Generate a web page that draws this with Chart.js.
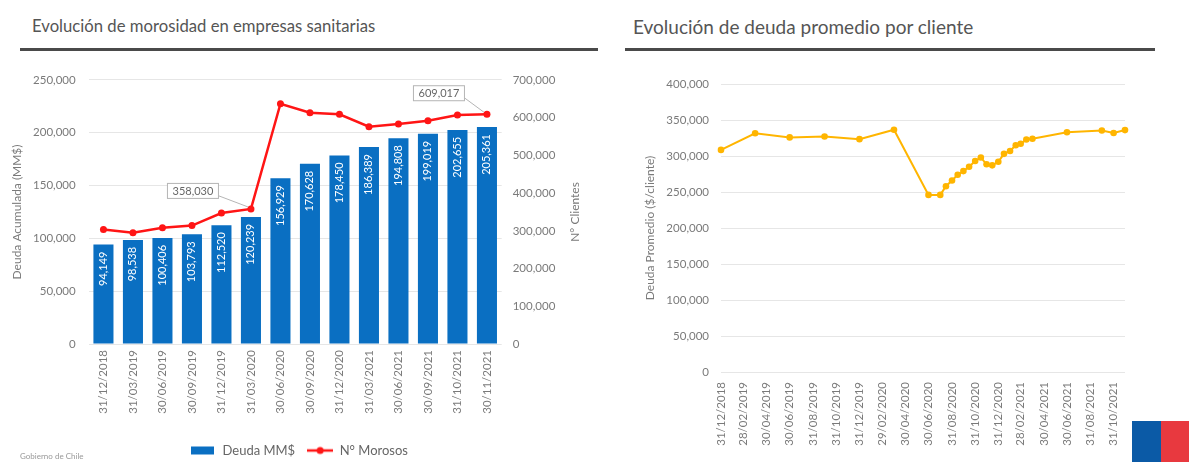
<!DOCTYPE html>
<html>
<head>
<meta charset="utf-8">
<script src="https://cdn.jsdelivr.net/npm/chart.js@4.4.1/dist/chart.umd.min.js"></script>
<style>
body{margin:0;background:#fff;font-family:Lato, sans-serif;width:1189px;height:462px;overflow:hidden;position:relative}
.titulo{position:absolute;top:16px;font-size:17px;color:#555;white-space:nowrap}
.linea{position:absolute;top:48px;height:3px;background:#4a4a4a}
#c1{position:absolute;left:0;top:60px}
#c2{position:absolute;left:620px;top:60px}
.pie{position:absolute;left:20px;top:451px;font-size:8px;color:#999}
.azul{position:absolute;left:1132px;top:421px;width:29px;height:41px;background:#0b5aa6}
.rojo{position:absolute;left:1161px;top:421px;width:28px;height:41px;background:#e8393f}
</style>
</head>
<body>
<div class="titulo" style="left:32px;font-size:16.7px">Evolución de morosidad en empresas sanitarias</div>
<div class="linea" style="left:20px;width:578px"></div>
<div class="titulo" style="left:633px;font-size:19px;top:15px">Evolución de deuda promedio por cliente</div>
<div class="linea" style="left:625px;width:530px"></div>
<canvas id="c1" width="600" height="407"></canvas>
<canvas id="c2" width="569" height="402"></canvas>
<div class="pie">Gobierno de Chile</div>
<div class="azul"></div><div class="rojo"></div>
<script>
// grafico izquierdo: deuda acumulada y numero de morosos
var fechasMorosidad = ["31/12/2018", "31/03/2019", "30/06/2019", "30/09/2019", "31/12/2019", "31/03/2020", "30/06/2020", "30/09/2020", "31/12/2020", "31/03/2021", "30/06/2021", "30/09/2021", "31/10/2021", "30/11/2021"];
var deudaMMS = [94149, 98538, 100406, 103793, 112520, 120239, 156929, 170628, 178450, 186389, 194808, 199019, 202655, 205361];
var nMorosos = [303600, 295000, 308000, 314000, 347000, 358030, 636700, 613000, 609000, 576000, 583000, 591600, 607000, 609017];
var ticksDeuda = [0, 50000, 100000, 150000, 200000, 250000];
var ticksClientes = [0, 100000, 200000, 300000, 400000, 500000, 600000, 700000];

// grafico derecho: deuda promedio por cliente
var fechasDeuda = ["31/12/2018", "31/03/2019", "30/06/2019", "30/09/2019", "31/12/2019", "31/03/2020", "30/06/2020", "31/07/2020", "15/08/2020", "31/08/2020", "15/09/2020", "30/09/2020", "15/10/2020", "31/10/2020", "15/11/2020", "30/11/2020", "15/12/2020", "31/12/2020", "15/01/2021", "31/01/2021", "15/02/2021", "28/02/2021", "15/03/2021", "31/03/2021", "30/06/2021", "30/09/2021", "31/10/2021", "30/11/2021"];
var deudaPromedio = [308500, 331500, 325800, 327000, 323400, 336400, 246000, 246000, 258000, 266000, 274000, 279000, 285000, 293000, 298000, 288500, 287000, 292000, 303000, 307000, 315000, 317000, 323000, 324000, 333000, 335500, 332000, 336000];
var etiquetasDeuda = ["31/12/2018", "28/02/2019", "30/04/2019", "30/06/2019", "31/08/2019", "31/10/2019", "31/12/2019", "29/02/2020", "30/04/2020", "30/06/2020", "31/08/2020", "31/10/2020", "31/12/2020", "28/02/2021", "30/04/2021", "30/06/2021", "31/08/2021", "31/10/2021"];
var ticksPromedio = [0, 50000, 100000, 150000, 200000, 250000, 300000, 350000, 400000];

var azul = "#0a6fc2";
var rojo = "#ff1515";
var oro = "#ffb500";
var gris = "#7a7a7a";
var fuente = "Lato";

function fecha(t) {
  var p = t.split("/");
  return Date.UTC(+p[2], p[1] - 1, +p[0]);
}
function miles(v) {
  return Number(v).toLocaleString("en-US");
}
function fijarTicks(lista) {
  return function(scale) {
    scale.ticks = lista.map(function(v) { return {value: v}; });
  };
}

// marcas de la leyenda (barra y linea con punto)
function marca(dibujar) {
  var c = document.createElement("canvas");
  c.width = 26; c.height = 10;
  dibujar(c.getContext("2d"));
  return c;
}
var marcaBarra = marca(function(g) { g.fillStyle = azul; g.fillRect(1, 1, 23, 8); });
var marcaLinea = marca(function(g) {
  g.strokeStyle = rojo; g.lineWidth = 2.5;
  g.beginPath(); g.moveTo(0, 5); g.lineTo(26, 5); g.stroke();
  g.fillStyle = rojo; g.beginPath(); g.arc(13, 5, 3.5, 0, Math.PI * 2); g.fill();
});
var marcas = [marcaBarra, marcaLinea];

// valores blancos dentro de las barras
var etiquetasBarras = {
  id: "etiquetasBarras",
  afterDatasetDraw: function(chart, args) {
    if (args.index !== 0) return;
    var ctx = chart.ctx;
    ctx.save();
    ctx.fillStyle = "#fff";
    ctx.font = "11px " + fuente;
    ctx.textAlign = "right";
    ctx.textBaseline = "middle";
    args.meta.data.forEach(function(bar, i) {
      ctx.save();
      ctx.translate(bar.x, bar.y + 7);
      ctx.rotate(-Math.PI / 2);
      ctx.fillText(miles(deudaMMS[i]), 0, 0);
      ctx.restore();
    });
    ctx.restore();
  }
};

// cuadros con valor para dos puntos de la linea roja + titulo del eje derecho
var llamadas = {
  id: "llamadas",
  afterDatasetsDraw: function(chart) {
    var ctx = chart.ctx;
    var pts = chart.getDatasetMeta(1).data;
    [[5, -58, -18], [13, -48, -21]].forEach(function(l) {
      var p = pts[l[0]];
      var cx = p.x + l[1], cy = p.y + l[2];
      ctx.save();
      ctx.strokeStyle = "#b5b5b5";
      ctx.lineWidth = 1;
      ctx.beginPath();
      ctx.moveTo(cx + 26, cy + 5);
      ctx.lineTo(p.x - 3, p.y - 2);
      ctx.stroke();
      ctx.fillStyle = "#fff";
      ctx.fillRect(cx - 26, cy - 8, 52, 16);
      ctx.strokeRect(cx - 25.5, cy - 7.5, 51, 15);
      ctx.fillStyle = "#666";
      ctx.font = "11px " + fuente;
      ctx.textAlign = "center";
      ctx.textBaseline = "middle";
      ctx.fillText(miles(nMorosos[l[0]]), cx, cy + 0.5);
      ctx.restore();
    });
    var area = chart.chartArea;
    ctx.save();
    ctx.translate(575, (area.top + area.bottom) / 2);
    ctx.rotate(-Math.PI / 2);
    ctx.fillStyle = gris;
    ctx.font = "12px " + fuente;
    ctx.textAlign = "center";
    ctx.textBaseline = "middle";
    ctx.fillText("N° Clientes", 0, 0);
    ctx.restore();
  }
};

var tickFont = {family: fuente, size: 11.5};
var tituloFont = {family: fuente, size: 12};

new Chart(document.getElementById("c1"), {
  data: {
    labels: fechasMorosidad,
    datasets: [
      {
        type: "bar",
        label: "Deuda MM$",
        data: deudaMMS,
        backgroundColor: azul,
        barPercentage: 0.68,
        categoryPercentage: 1,
        yAxisID: "y",
        order: 2
      },
      {
        type: "line",
        label: "N° Morosos",
        data: nMorosos,
        borderColor: rojo,
        backgroundColor: rojo,
        borderWidth: 2.5,
        pointRadius: 3.5,
        pointBorderWidth: 0,
        yAxisID: "y1",
        order: 1
      }
    ]
  },
  options: {
    responsive: false,
    animation: false,
    layout: {padding: {left: 8, right: 10, top: 15, bottom: 0}},
    plugins: {
      legend: {
        position: "bottom",
        labels: {
          usePointStyle: true,
          pointStyleWidth: 26,
          boxHeight: 10,
          color: "#666",
          font: {family: fuente, size: 13},
          padding: 12,
          sort: function(a, b) { return a.datasetIndex - b.datasetIndex; },
          generateLabels: function(chart) {
            var items = Chart.defaults.plugins.legend.labels.generateLabels(chart);
            items.forEach(function(it) { it.pointStyle = marcas[it.datasetIndex]; });
            return items;
          }
        }
      },
      tooltip: {enabled: false}
    },
    scales: {
      x: {
        grid: {display: false, drawTicks: false},
        border: {display: false},
        ticks: {color: gris, font: tickFont, maxRotation: 90, minRotation: 90, autoSkip: false, padding: 6},
        afterFit: function(s) { s.height = 88; }
      },
      y: {
        position: "left",
        min: 0, max: 250000,
        afterBuildTicks: fijarTicks(ticksDeuda),
        grid: {color: "#e6e6e6", drawTicks: false},
        border: {display: false},
        ticks: {color: gris, font: tickFont, padding: 13, callback: miles},
        title: {display: true, text: "Deuda Acumulada (MM$)", color: gris, font: tituloFont, padding: {top: 2, bottom: 0}},
        afterFit: function(s) { s.width = 80.7; }
      },
      y1: {
        position: "right",
        min: 0, max: 700000,
        afterBuildTicks: fijarTicks(ticksClientes),
        grid: {drawOnChartArea: false, drawTicks: false},
        border: {display: false},
        ticks: {color: gris, font: tickFont, padding: 11, callback: miles},
        afterFit: function(s) { s.width = 88.3; }
      }
    }
  },
  plugins: [etiquetasBarras, llamadas]
});

var puntosDeuda = fechasDeuda.map(function(f, i) {
  return {x: fecha(f), y: deudaPromedio[i]};
});

new Chart(document.getElementById("c2"), {
  type: "line",
  data: {
    datasets: [{
      label: "Deuda promedio",
      data: puntosDeuda,
      borderColor: oro,
      backgroundColor: oro,
      borderWidth: 2,
      pointRadius: 3.3,
      pointBorderWidth: 0,
      clip: false
    }]
  },
  options: {
    responsive: false,
    animation: false,
    layout: {padding: {left: 8, right: 64, top: 24, bottom: 0}},
    plugins: {legend: {display: false}, tooltip: {enabled: false}},
    scales: {
      x: {
        type: "linear",
        min: fecha(fechasDeuda[0]),
        max: fecha(fechasDeuda[fechasDeuda.length - 1]),
        afterBuildTicks: fijarTicks(etiquetasDeuda.map(fecha)),
        grid: {display: false, drawTicks: false},
        border: {display: false},
        ticks: {
          color: gris, font: tickFont, maxRotation: 90, minRotation: 90, autoSkip: false, padding: 10,
          callback: function(v, i) { return etiquetasDeuda[i]; }
        },
        afterFit: function(s) { s.height = 90; }
      },
      y: {
        min: 0, max: 400000,
        afterBuildTicks: fijarTicks(ticksPromedio),
        grid: {color: "#e6e6e6", drawTicks: false},
        border: {display: false},
        ticks: {color: gris, font: tickFont, padding: 12, callback: miles},
        title: {display: true, text: "Deuda Promedio ($/cliente)", color: gris, font: tituloFont, padding: {top: 15, bottom: 0}},
        afterFit: function(s) { s.width = 93; }
      }
    }
  }
});
</script>
</body>
</html>
